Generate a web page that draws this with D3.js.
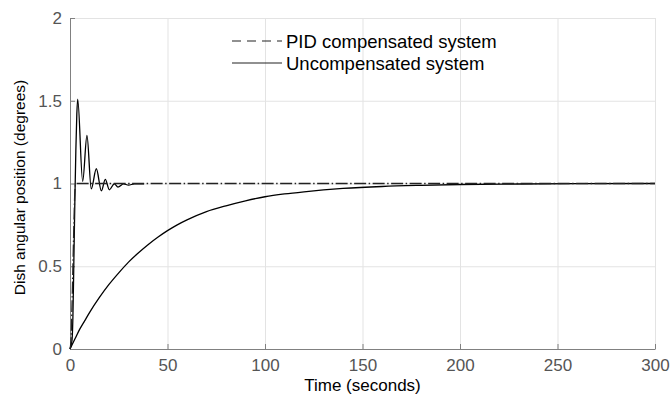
<!DOCTYPE html>
<html>
<head>
<meta charset="utf-8">
<script src="https://cdn.jsdelivr.net/npm/d3@7"></script>
<style>
  body { margin: 0; background: #fff; }
  text { font-family: "Liberation Sans", Arial, sans-serif; }
</style>
</head>
<body>
<div id="chart"></div>
<script>
// tick values
const xTicks = [0, 50, 100, 150, 200, 250, 300];
const yTicks = [0, 0.5, 1, 1.5, 2];

// PID compensated system (dashed)
const pidTime = [0, 0.5, 1, 1.5, 2, 2.5, 3, 4, 300];
const pidValue = [0, 0.05, 0.25, 0.5, 0.75, 0.95, 1.0, 1.0, 1.0];

// fast oscillating response (solid)
const oscTime = [0, 1, 1.5, 2, 2.5, 3, 3.5, 3.95, 6.5, 8.7, 10.9, 13.5, 16.1, 18.1, 20.2, 22.7, 24.6, 27.5, 30, 33, 38];
const oscValue = [0, 0.05, 0.2, 0.55, 0.9, 1.2, 1.42, 1.51, 1.013, 1.29, 0.968, 1.089, 0.956, 1.025, 0.962, 0.998, 0.978, 0.998, 0.99, 0.998, 0.998];

// Uncompensated system (solid)
const slowTime = [0, 2.5, 5, 7.5, 10, 15, 20, 25, 30, 35, 40, 45, 50, 55, 60, 70, 80, 90, 100, 110, 120, 140, 160, 180, 200, 230, 260, 300];
const slowValue = [0, 0.06, 0.12, 0.17, 0.22, 0.31, 0.39, 0.46, 0.525, 0.58, 0.63, 0.675, 0.715, 0.75, 0.78, 0.83, 0.865, 0.895, 0.92, 0.937, 0.95, 0.97, 0.982, 0.989, 0.994, 0.997, 0.999, 1.0];

const legendNames = ['PID compensated system', 'Uncompensated system'];

const width = 670;
const height = 394;
const margin = {top: 18, right: 15, bottom: 45, left: 70};
const plotW = width - margin.left - margin.right;
const plotH = height - margin.top - margin.bottom;

const svg = d3.select('#chart')
    .append('svg')
    .attr('width', width)
    .attr('height', height);

const chart = svg.append('g')
    .attr('transform', `translate(${margin.left},${margin.top})`);

const x = d3.scaleLinear().domain([0, 300]).range([0, plotW]);
const y = d3.scaleLinear().domain([0, 2]).range([plotH, 0]);

// grid
chart.append('g')
    .attr('transform', `translate(0,${plotH})`)
    .call(d3.axisBottom(x).tickValues(xTicks).tickSize(-plotH).tickFormat(''))
    .call(g => g.select('.domain').remove())
    .selectAll('line').attr('stroke', '#e3e3e3');

chart.append('g')
    .call(d3.axisLeft(y).tickValues(yTicks).tickSize(-plotW).tickFormat(''))
    .call(g => g.select('.domain').remove())
    .selectAll('line').attr('stroke', '#e3e3e3');

// axes
const xAxis = chart.append('g')
    .attr('transform', `translate(0,${plotH})`)
    .call(d3.axisBottom(x).tickValues(xTicks).tickSize(-5).tickSizeOuter(0).tickPadding(10).tickFormat(d => d));

const yAxis = chart.append('g')
    .call(d3.axisLeft(y).tickValues(yTicks).tickSize(-5).tickSizeOuter(0).tickPadding(8).tickFormat(d => String(d)));

[xAxis, yAxis].forEach(ax => {
  ax.select('.domain').attr('stroke', '#808080');
  ax.selectAll('.tick line').attr('stroke', '#808080');
  ax.selectAll('.tick text')
      .attr('fill', '#555')
      .style('font-size', '17px')
      .style('font-family', '"Liberation Sans", Arial, sans-serif');
});

// axis labels
svg.append('text')
    .attr('x', margin.left + plotW / 2)
    .attr('y', 391)
    .attr('text-anchor', 'middle')
    .attr('fill', '#000')
    .style('font-size', '17px')
    .text('Time (seconds)');

svg.append('text')
    .attr('transform', `translate(25,${margin.top + plotH / 2 + 4}) rotate(-90)`)
    .attr('text-anchor', 'middle')
    .attr('fill', '#000')
    .style('font-size', '15.5px')
    .text('Dish angular position (degrees)');

const line = d3.line()
    .x(d => x(d[0]))
    .y(d => y(d[1]))
    .curve(d3.curveMonotoneX);

const pidData = pidTime.map((t, i) => [t, pidValue[i]]);
const oscData = oscTime.map((t, i) => [t, oscValue[i]]);
const slowData = slowTime.map((t, i) => [t, slowValue[i]]);

chart.append('path')
    .attr('d', line(slowData))
    .attr('fill', 'none')
    .attr('stroke', '#000')
    .attr('stroke-width', 1.3);

chart.append('path')
    .attr('d', line(oscData))
    .attr('fill', 'none')
    .attr('stroke', '#000')
    .attr('stroke-width', 1.3);

chart.append('path')
    .attr('d', line(pidData))
    .attr('fill', 'none')
    .attr('stroke', '#222')
    .attr('stroke-width', 1.3)
    .attr('stroke-dasharray', '12,2.5,1.5,2.5');

// legend
const legend = svg.selectAll('.legend')
    .data(legendNames)
    .enter().append('g')
    .attr('class', 'legend')
    .attr('transform', (d, i) => `translate(232,${41 + i * 22})`);

legend.append('line')
    .attr('x1', 0)
    .attr('x2', 50)
    .attr('stroke', '#222')
    .attr('stroke-width', 1.2)
    .attr('stroke-dasharray', (d, i) => i === 0 ? '9,6' : null);

legend.append('text')
    .attr('x', 54)
    .attr('dy', '.36em')
    .attr('fill', '#000')
    .style('font-size', '18.5px')
    .text(d => d);
</script>
</body>
</html>
